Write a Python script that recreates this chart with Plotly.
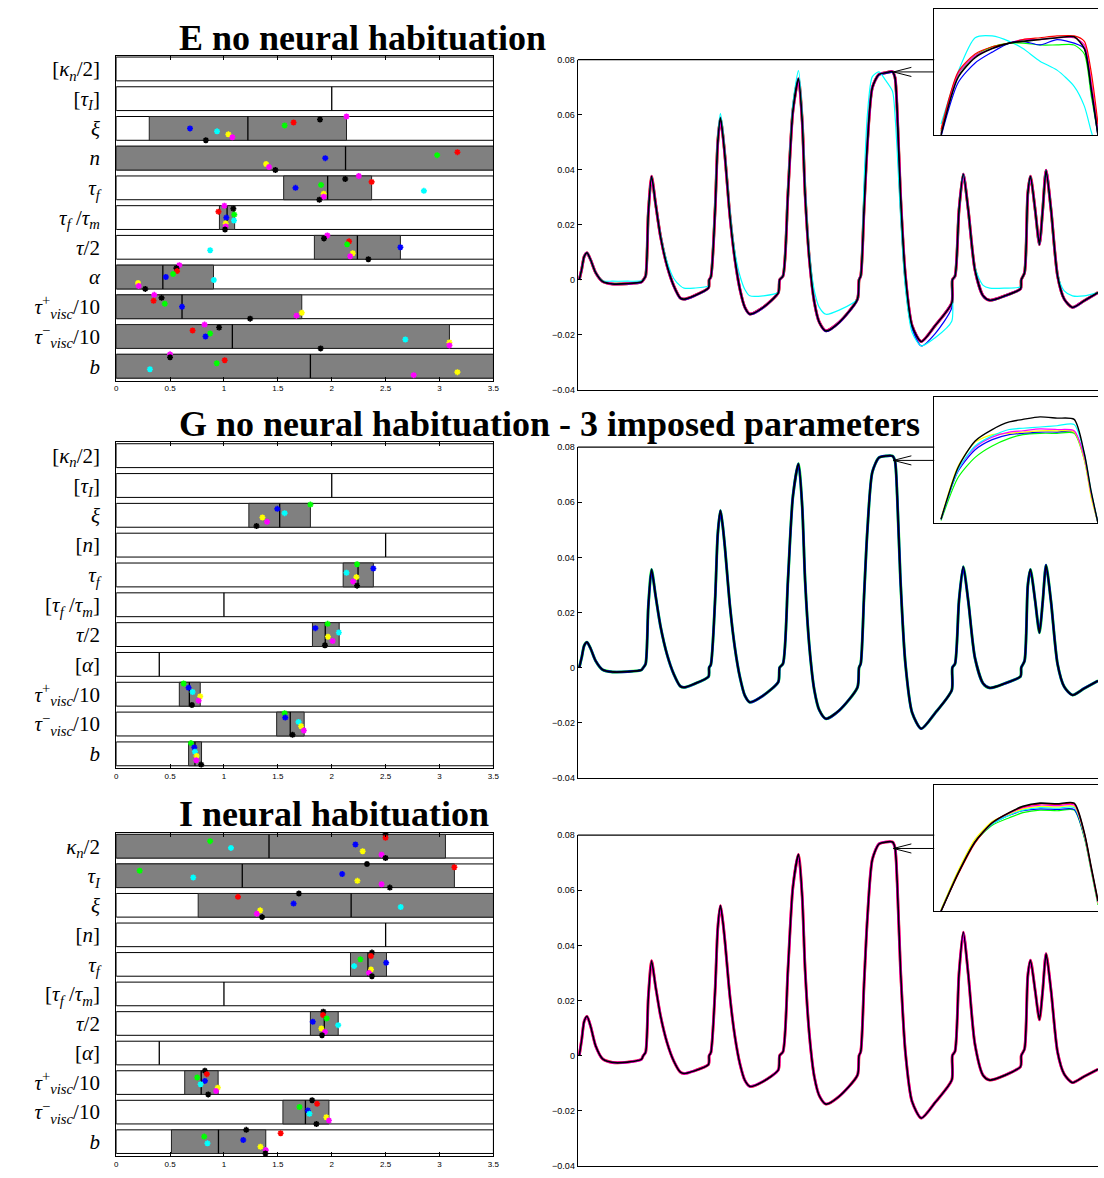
import plotly.graph_objects as go

W, H = 1104, 1178
def fx(p): return p / W
def fy(p): return 1 - p / H

# ---------------- parameter panels (left) ----------------
X_TICKS = [0, 0.5, 1, 1.5, 2, 2.5, 3, 3.5]
X_TICK_TEXT = ["0", "0.5", "1", "1.5", "2", "2.5", "3", "3.5"]

TP = "<i>τ</i><sup>+</sup><sub><i>visc</i></sub>/10"
TM = "<i>τ</i><sup>−</sup><sub><i>visc</i></sub>/10"
labels_E = ["[<i>κ<sub>n</sub></i>/2]", "[<i>τ<sub>I</sub></i>]", "<i>ξ</i>", "<i>n</i>",
            "<i>τ<sub>f</sub></i>", "<i>τ<sub>f</sub></i> /<i>τ<sub>m</sub></i>", "<i>τ</i>/2",
            "<i>α</i>", TP, TM, "<i>b</i>"]
labels_G = ["[<i>κ<sub>n</sub></i>/2]", "[<i>τ<sub>I</sub></i>]", "<i>ξ</i>", "[<i>n</i>]",
            "<i>τ<sub>f</sub></i>", "[<i>τ<sub>f</sub></i> /<i>τ<sub>m</sub></i>]", "<i>τ</i>/2",
            "[<i>α</i>]", TP, TM, "<i>b</i>"]
labels_I = ["<i>κ<sub>n</sub></i>/2", "<i>τ<sub>I</sub></i>", "<i>ξ</i>", "[<i>n</i>]",
            "<i>τ<sub>f</sub></i>", "[<i>τ<sub>f</sub></i> /<i>τ<sub>m</sub></i>]", "<i>τ</i>/2",
            "[<i>α</i>]", TP, TM, "<i>b</i>"]

N = None
# panel E ranges
E_low  = [N, N, 0.307, 0.0, 1.554, 0.958, 1.839, 0.0, 0.0, 0.0, 0.0]
E_high = [N, N, 2.137, 3.5, 2.370, 1.099, 2.637, 0.903, 1.722, 3.092, 3.5]
E_mid  = [N, 2.0, 1.222, 2.128, 1.962, 1.029, 2.238, 0.433, 0.611, 1.078, 1.802]
# panel E estimates (top to bottom within each row)
E_m1 = [N, N, 2.137, N, 2.251, 1.004, 1.959, 0.586, 0.353, 0.820, 0.500]
E_k1 = [N, N, 1.891, N, 2.125, 1.087, 1.928, 0.559, 0.421, 0.955, 0.500]
E_r  = [N, N, 1.646, 3.166, 2.370, 0.949, 2.161, 0.565, 0.347, 0.709, 1.007]
E_g  = [N, N, 1.563, 2.978, 1.901, 1.096, 2.143, 0.528, 0.451, 0.872, 0.933]
E_b  = [N, N, 0.685, 1.940, 1.664, 1.022, 2.637, 0.461, 0.611, 0.829, N]
E_c  = [N, N, 0.936, N, 2.855, 1.093, 0.872, 0.906, N, 2.683, 0.313]
E_y  = [N, N, 1.041, 1.391, 1.925, 1.016, 2.195, 0.203, 1.722, 3.092, 3.166]
E_m2 = [N, N, 1.078, 1.418, 1.925, 1.016, 2.171, 0.209, 1.673, 3.092, 2.760]
E_k2 = [N, N, 0.832, 1.477, 1.885, 1.010, 2.340, 0.270, 1.243, 1.897, N]

# panel G
G_low  = [N, N, 1.231, N, 2.106, N, 1.821, N, 0.586, 1.489, 0.672]
G_high = [N, N, 1.802, N, 2.386, N, 2.069, N, 0.780, 1.744, 0.792]
G_mid  = [N, 2.0, 1.517, 2.5, 2.244, 1.0, 1.940, 0.4, 0.679, 1.615, 0.731]
G_g = [N, N, 1.802, N, 2.235, N, 1.962, N, 0.626, 1.563, 0.694]
G_b = [N, N, 1.495, N, 2.386, N, 1.848, N, 0.672, 1.569, 0.725]
G_c = [N, N, 1.563, N, 2.137, N, 2.066, N, 0.709, 1.692, 0.731]
G_y = [N, N, 1.357, N, 2.229, N, 1.965, N, 0.780, 1.716, 0.746]
G_m = [N, N, 1.400, N, 2.198, N, 2.008, N, 0.765, 1.741, 0.743]
G_k = [N, N, 1.302, N, 2.235, N, 1.937, N, 0.703, 1.636, 0.789]

# panel I
I_low  = [0.0, 0.0, 0.761, N, 2.174, N, 1.802, N, 0.636, 1.547, 0.513]
I_high = [3.055, 3.138, 3.5, N, 2.508, N, 2.060, N, 0.946, 1.974, 1.388]
I_mid  = [1.418, 1.170, 2.180, 2.5, 2.336, 1.0, 1.931, 0.4, 0.789, 1.756, 0.949]
I_k1 = [2.499, 2.327, 1.695, N, 2.373, N, 1.922, N, 0.823, 1.818, 1.207]
I_r  = [2.499, 3.138, 1.130, N, 2.364, N, 1.919, N, 0.841, 1.864, 1.526]
I_g  = [0.872, 0.218, N, N, 2.266, N, 1.953, N, 0.752, 1.701, 0.817]
I_b  = [2.220, 2.097, 1.646, N, 2.505, N, 1.824, N, 0.823, 1.778, 1.179]
I_c  = [1.065, 0.715, 2.640, N, 2.208, N, 2.060, N, 0.783, 1.793, 0.847]
I_y  = [2.287, 2.238, 1.336, N, 2.364, N, 1.904, N, 0.943, 1.950, 1.339]
I_m  = [2.462, 2.462, 1.305, N, 2.346, N, 1.937, N, 0.927, 1.974, 1.388]
I_k2 = [2.499, 2.539, 1.354, N, 2.373, N, 1.910, N, 0.854, 1.858, 1.385]

# ---------------- signals (right) ----------------
Y_TICKS = [-0.04, -0.02, 0, 0.02, 0.04, 0.06, 0.08]
Y_TICK_TEXT = ["−0.04", "−0.02", "0", "0.02", "0.04", "0.06", "0.08"]
T_MAX = 524

t_main = [1.5, 4, 6.5, 9.3, 13, 18, 25, 35, 50, 64,
          66, 68.3, 71, 74.3, 78.3, 83.3, 90, 96.7, 103.3, 107,
          117, 131.7, 132.3, 134, 138.3, 141, 143.7, 146, 148.3, 153.3,
          158.3, 163.3, 168.3, 173.3, 186.7, 202, 203.3, 206.7, 211.7, 216.7,
          222.3, 226, 229, 233.3, 238.3, 243.3, 250, 263.3, 281.7, 283.3,
          285, 288.3, 291.7, 296.7, 303.3, 310, 317, 319.5, 321.7, 325,
          330, 336.7, 346, 360, 376.7, 377.3, 380, 384, 388.3, 393.3,
          400, 408.3, 415, 430, 446, 446.7, 450, 453.3, 456, 460.7,
          465, 468.3, 471.7, 476.7, 483.3, 490, 498.3, 510, 524]

E_black = [0.0, 0.004, 0.0085, 0.0098, 0.0072, 0.0026, -0.0006, -0.0015, -0.0014, -0.0008,
           0.0, 0.0014, 0.024, 0.0376, 0.0278, 0.0158, 0.005, -0.0022, -0.0066, -0.007,
           -0.0058, -0.0029, 0.0, 0.001, 0.0254, 0.050, 0.0588, 0.053, 0.0446, 0.023,
           0.0074, -0.0034, -0.010, -0.0124, -0.010, -0.0046, 0.0, 0.0014, 0.0314, 0.0614,
           0.073, 0.058, 0.031, 0.0074, -0.0082, -0.0154, -0.0185, -0.0154, -0.007, 0.0,
           0.0014, 0.0254, 0.0494, 0.0698, 0.0746, 0.0752, 0.0756, 0.0735, 0.0614, 0.0314,
           0.0014, -0.0166, -0.0224, -0.0166, -0.0084, 0.0, 0.0014, 0.0254, 0.0384, 0.0254,
           0.0038, -0.0058, -0.0074, -0.0058, -0.0032, 0.0, 0.0026, 0.0314, 0.0376, 0.0254,
           0.0128, 0.0254, 0.0398, 0.0254, 0.0014, -0.007, -0.010, -0.0076, -0.0046]
E_cyan = [0.0, 0.004, 0.0085, 0.0098, 0.0072, 0.0026, -0.0003, -0.0005, -0.0005, -0.0004,
          0.0, 0.0014, 0.024, 0.0376, 0.028, 0.0165, 0.0065, 0.0005, -0.0022, -0.003,
          -0.003, -0.0022, 0.0, 0.001, 0.027, 0.052, 0.0605, 0.055, 0.046, 0.025,
          0.010, 0.0015, -0.0035, -0.0058, -0.0058, -0.0045, 0.0, 0.0014, 0.033, 0.064,
          0.076, 0.061, 0.034, 0.010, -0.004, -0.010, -0.0125, -0.011, -0.007, 0.0,
          0.0014, 0.035, 0.060, 0.0738, 0.0755, 0.0725, 0.0685, 0.060, 0.047, 0.024,
          -0.003, -0.019, -0.024, -0.021, -0.015, 0.0, 0.0014, 0.0254, 0.0384, 0.0254,
          0.0045, -0.002, -0.003, -0.003, -0.0025, 0.0, 0.0026, 0.0314, 0.0376, 0.0254,
          0.0128, 0.0254, 0.0398, 0.0254, 0.002, -0.004, -0.0058, -0.0058, -0.0046]
E_blue = [0.0, 0.004, 0.0085, 0.0098, 0.0072, 0.0026, -0.0006, -0.0015, -0.0014, -0.0008,
          0.0, 0.0014, 0.024, 0.0376, 0.0278, 0.0158, 0.005, -0.0024, -0.0068, -0.0072,
          -0.006, -0.003, 0.0, 0.001, 0.0254, 0.050, 0.0588, 0.053, 0.0446, 0.023,
          0.0074, -0.0035, -0.0102, -0.0126, -0.0102, -0.0047, 0.0, 0.0014, 0.0314, 0.0614,
          0.073, 0.058, 0.031, 0.0074, -0.0083, -0.0156, -0.0188, -0.0157, -0.0073, 0.0,
          0.0014, 0.0254, 0.0494, 0.0698, 0.0744, 0.0750, 0.0753, 0.0733, 0.0614, 0.0314,
          0.0014, -0.0175, -0.0240, -0.0195, -0.0102, 0.0, 0.0014, 0.0254, 0.0384, 0.0254,
          0.0038, -0.006, -0.0075, -0.006, -0.0033, 0.0, 0.0026, 0.0314, 0.0376, 0.0254,
          0.0128, 0.0254, 0.0398, 0.0254, 0.0014, -0.0071, -0.0101, -0.0077, -0.0047]
G_black = [0.0, 0.0038, 0.008, 0.0092, 0.0068, 0.0024, -0.0008, -0.0016, -0.0015, -0.0009,
           0.0, 0.0013, 0.022, 0.0356, 0.0262, 0.0150, 0.0046, -0.0024, -0.0068, -0.0072,
           -0.006, -0.0033, 0.0, 0.001, 0.0246, 0.0485, 0.057, 0.0514, 0.0432, 0.0222,
           0.0070, -0.0035, -0.0102, -0.0126, -0.0102, -0.0052, 0.0, 0.0014, 0.0318, 0.0622,
           0.074, 0.0588, 0.0314, 0.0075, -0.0083, -0.0155, -0.0186, -0.0156, -0.0072, 0.0,
           0.0014, 0.0256, 0.0498, 0.071, 0.0762, 0.0768, 0.0768, 0.075, 0.0626, 0.032,
           0.0014, -0.0163, -0.0222, -0.0165, -0.0082, 0.0, 0.0014, 0.0244, 0.0366, 0.0242,
           0.0036, -0.0058, -0.0074, -0.0058, -0.0032, 0.0, 0.0024, 0.0298, 0.0356, 0.0242,
           0.0126, 0.0238, 0.0372, 0.0238, 0.0012, -0.0070, -0.010, -0.0076, -0.0048]
I_black = [0.0, 0.006, 0.0125, 0.0142, 0.0105, 0.0035, -0.0012, -0.0025, -0.0024, -0.0014,
           0.0, 0.0012, 0.021, 0.0344, 0.0252, 0.0145, 0.0046, -0.002, -0.006, -0.0065,
           -0.0056, -0.0032, 0.0, 0.001, 0.0235, 0.0463, 0.0544, 0.049, 0.0412, 0.0212,
           0.0068, -0.003, -0.009, -0.0112, -0.0094, -0.0052, 0.0, 0.0014, 0.0312, 0.0612,
           0.073, 0.058, 0.031, 0.0074, -0.0078, -0.0146, -0.0176, -0.0148, -0.0071, 0.0,
           0.0014, 0.0256, 0.0498, 0.0712, 0.0768, 0.0775, 0.0775, 0.0755, 0.063, 0.032,
           0.0012, -0.0167, -0.0227, -0.0170, -0.0089, 0.0, 0.0016, 0.0298, 0.0448, 0.0296,
           0.0042, -0.0072, -0.0089, -0.0072, -0.004, 0.0, 0.0024, 0.029, 0.0346, 0.0236,
           0.013, 0.0236, 0.037, 0.0236, 0.0012, -0.0068, -0.0098, -0.0076, -0.005]

# insets: zoom on the plateau of the fifth response
t_inset = [297, 299.5, 302, 304.5, 307, 309, 311.5, 314, 316.5, 318, 319, 320]
E_in_black   = [0.0700, 0.0732, 0.0743, 0.0748, 0.0751, 0.0752, 0.0753, 0.0754, 0.07545, 0.0748, 0.0726, 0.0700]
E_in_red     = [0.0703, 0.0735, 0.0745, 0.0749, 0.0751, 0.0753, 0.0754, 0.0755, 0.0755, 0.0752, 0.0735, 0.0706]
E_in_green   = [0.0702, 0.0734, 0.0744, 0.0749, 0.0751, 0.0751, 0.0750, 0.0750, 0.0750, 0.0745, 0.0722, 0.0700]
E_in_blue    = [0.0699, 0.0729, 0.0740, 0.0746, 0.0751, 0.0752, 0.0750, 0.0753, 0.0751, 0.0748, 0.0725, 0.0699]
E_in_magenta = [0.0701, 0.0734, 0.0744, 0.0748, 0.0751, 0.0753, 0.0753, 0.0754, 0.0754, 0.0750, 0.0730, 0.0703]
E_in_yellow  = [0.0702, 0.0734, 0.0744, 0.0749, 0.0751, 0.0752, 0.0753, 0.0754, 0.0754, 0.0750, 0.0731, 0.0704]
E_in_cyan    = [0.0706, 0.0735, 0.0754, 0.0755, 0.0752, 0.0748, 0.0741, 0.0736, 0.0727, 0.0716, 0.0702, 0.0690]

G_in_black   = [0.06445, 0.0706, 0.07375, 0.0751, 0.0760, 0.0763, 0.0766, 0.07645, 0.0763, 0.07225, 0.06775, 0.0640]
G_in_cyan    = [0.06445, 0.0703, 0.07315, 0.07435, 0.0751, 0.07525, 0.0754, 0.07555, 0.0757, 0.07225, 0.06775, 0.0640]
G_in_magenta = [0.06445, 0.0703, 0.0730, 0.0742, 0.0748, 0.07495, 0.07518, 0.0751, 0.07495, 0.0718, 0.06745, 0.0640]
G_in_yellow  = [0.0646, 0.07075, 0.0736, 0.0745, 0.07465, 0.0748, 0.07495, 0.07495, 0.0748, 0.0715, 0.0670, 0.0640]
G_in_blue    = [0.06445, 0.07015, 0.0727, 0.0739, 0.0745, 0.07465, 0.0748, 0.0748, 0.0748, 0.0718, 0.06745, 0.0640]
G_in_green   = [0.0643, 0.0694, 0.0718, 0.07315, 0.07405, 0.0745, 0.07465, 0.07465, 0.07465, 0.0715, 0.0673, 0.0640]

I_in_black   = [0.0630, 0.0678, 0.0718, 0.0742, 0.07548, 0.07628, 0.07668, 0.0766, 0.07668, 0.07292, 0.0686, 0.06428]
I_in_red     = [0.0630, 0.06764, 0.07164, 0.0742, 0.07548, 0.0762, 0.0766, 0.07652, 0.0766, 0.07292, 0.0686, 0.06428]
I_in_magenta = [0.0630, 0.0678, 0.0718, 0.0742, 0.0754, 0.07612, 0.07644, 0.07636, 0.07644, 0.07276, 0.06844, 0.06412]
I_in_yellow  = [0.06316, 0.06812, 0.07212, 0.07436, 0.07532, 0.07596, 0.07628, 0.0762, 0.07628, 0.0726, 0.06828, 0.06396]
I_in_cyan    = [0.0630, 0.0678, 0.0718, 0.07404, 0.07516, 0.0758, 0.07612, 0.07604, 0.07612, 0.0726, 0.06828, 0.06396]
I_in_blue    = [0.0630, 0.0678, 0.0718, 0.07404, 0.07516, 0.07572, 0.07596, 0.07588, 0.07588, 0.07244, 0.06828, 0.06396]
I_in_green   = [0.06316, 0.06796, 0.0718, 0.07388, 0.07484, 0.07548, 0.0758, 0.07572, 0.0758, 0.07228, 0.06812, 0.0638]

TITLES = ["E no neural habituation", "G no neural habituation - 3 imposed parameters", "I neural habituation"]

# ---------------- styling ----------------
C = dict(r="#ff0000", g="#00ff00", b="#0000ff", c="#00ffff", y="#ffff00", m="#ff00ff", k="#000000")
SERIF = "Liberation Serif"
SANS = "Liberation Sans"

fig = go.Figure()

def refs(k):
    return ("x" if k == 1 else f"x{k}"), ("y" if k == 1 else f"y{k}")

def add_params(k, labels, low, high, mid, series, span):
    xa, ya = refs(k)
    n = len(labels)
    rows = list(range(n))
    fig.add_trace(go.Bar(orientation="h", y=rows, x=[X_TICKS[-1]] * n, base=[X_TICKS[0]] * n,
                         width=0.8, marker=dict(color="white", line=dict(color="black", width=1)),
                         xaxis=xa, yaxis=ya, hoverinfo="skip", showlegend=False))
    rr = [r for r in rows if low[r] is not None]
    fig.add_trace(go.Bar(orientation="h", y=rr, x=[high[r] - low[r] for r in rr], base=[low[r] for r in rr],
                         width=0.8, marker=dict(color="#808080", line=dict(color="#222222", width=1)),
                         xaxis=xa, yaxis=ya, hoverinfo="skip", showlegend=False))
    lx, ly = [], []
    for r in rows:
        if mid[r] is not None:
            lx += [mid[r], mid[r], None]
            ly += [r - 0.4, r + 0.4, None]
    fig.add_trace(go.Scatter(x=lx, y=ly, mode="lines", line=dict(color="black", width=1.3),
                             xaxis=xa, yaxis=ya, hoverinfo="skip", showlegend=False))
    m = len(series)
    for i, (col, vals) in enumerate(series):
        off = -span + 2 * span * i / (m - 1)
        fig.add_trace(go.Scatter(x=vals, y=[r + off for r in rows], mode="markers",
                                 marker=dict(symbol="asterisk-open", size=5, color=C[col],
                                             line=dict(color=C[col], width=1.6)),
                                 xaxis=xa, yaxis=ya, hoverinfo="skip", showlegend=False))

add_params(1, labels_E, E_low, E_high, E_mid,
           [("m", E_m1), ("k", E_k1), ("r", E_r), ("g", E_g), ("b", E_b), ("c", E_c),
            ("y", E_y), ("m", E_m2), ("k", E_k2)], 0.4)
add_params(2, labels_G, G_low, G_high, G_mid,
           [("g", G_g), ("b", G_b), ("c", G_c), ("y", G_y), ("m", G_m), ("k", G_k)], 0.36)
add_params(3, labels_I, I_low, I_high, I_mid,
           [("k", I_k1), ("r", I_r), ("g", I_g), ("b", I_b), ("c", I_c), ("y", I_y),
            ("m", I_m), ("k", I_k2)], 0.4)

def line(k, t, y, col, w):
    xa, ya = refs(k)
    fig.add_trace(go.Scatter(x=t, y=y, mode="lines", line=dict(color=col, width=w, shape="spline", smoothing=0.7),
                             xaxis=xa, yaxis=ya, hoverinfo="skip", showlegend=False))

# main signals
line(4, t_main, E_black, C["g"], 2.6)
line(4, t_main, E_black, C["r"], 2.9)
line(4, t_main, E_black, C["m"], 2.5)
line(4, t_main, E_blue, C["b"], 1.3)
line(4, t_main, E_cyan, C["c"], 1.2)
line(4, t_main, E_black, C["k"], 1.7)

line(5, t_main, G_black, C["g"], 2.9)
line(5, t_main, G_black, C["b"], 2.5)
line(5, t_main, G_black, C["k"], 1.7)

line(6, t_main, I_black, C["r"], 2.9)
line(6, t_main, I_black, C["m"], 2.5)
line(6, t_main, I_black, C["k"], 1.7)

# insets
for col, arr in [("c", E_in_cyan), ("y", E_in_yellow), ("g", E_in_green), ("m", E_in_magenta),
                 ("r", E_in_red), ("b", E_in_blue), ("k", E_in_black)]:
    line(7, t_inset, arr, C[col], 1.6 if col == "k" else 1.2)
for col, arr in [("g", G_in_green), ("b", G_in_blue), ("y", G_in_yellow), ("m", G_in_magenta),
                 ("c", G_in_cyan), ("k", G_in_black)]:
    line(8, t_inset, arr, C[col], 1.4 if col == "k" else 1.2)
for col, arr in [("g", I_in_green), ("b", I_in_blue), ("c", I_in_cyan), ("y", I_in_yellow),
                 ("m", I_in_magenta), ("r", I_in_red), ("k", I_in_black)]:
    line(9, t_inset, arr, C[col], 1.6 if col == "k" else 1.2)

# ---------------- axes ----------------
layout = dict(width=W, height=H, margin=dict(l=0, r=0, t=0, b=0), paper_bgcolor="white",
              plot_bgcolor="rgba(0,0,0,0)", barmode="overlay", showlegend=False,
              font=dict(family=SANS, color="black"))

def set_axes(k, xd, yd, xcfg, ycfg):
    xn = "xaxis" if k == 1 else f"xaxis{k}"
    yn = "yaxis" if k == 1 else f"yaxis{k}"
    xa, ya = refs(k)
    layout[xn] = dict(domain=xd, anchor=ya, showgrid=False, zeroline=False, **xcfg)
    layout[yn] = dict(domain=yd, anchor=xa, showgrid=False, zeroline=False, **ycfg)

left_boxes = [(51, 379), (441, 770), (835, 1161)]
for i, (labels, (top, bot)) in enumerate(zip([labels_E, labels_G, labels_I], left_boxes)):
    n = len(labels)
    set_axes(i + 1, [fx(115), fx(495)], [fy(bot), fy(top)],
             dict(range=[X_TICKS[0], X_TICKS[-1]], tickvals=X_TICKS, ticktext=X_TICK_TEXT,
                  ticks="inside", ticklen=4, tickcolor="black", showline=True, linecolor="black",
                  linewidth=1, mirror="ticks", tickfont=dict(size=8, family=SANS)),
             dict(range=[n - 1 + 0.49, -0.45], tickvals=list(range(n)), ticktext=labels,
                  ticks="", showline=True, linecolor="black", linewidth=1, mirror=True,
                  tickfont=dict(size=21, family=SERIF), ticklabelstandoff=11))

right_boxes = [(55, 388.3), (446, 779.3), (837.3, 1170.7)]
for i, (top, bot) in enumerate(right_boxes):
    set_axes(i + 4, [fx(580), 1.0], [fy(bot), fy(top)],
             dict(range=[0, T_MAX], showticklabels=False, ticks="", showline=True,
                  linecolor="black", linewidth=1.2, mirror=False),
             dict(range=[Y_TICKS[0], Y_TICKS[-1]], tickvals=Y_TICKS, ticktext=Y_TICK_TEXT,
                  ticks="inside", ticklen=4, tickcolor="black", showline=True, linecolor="black",
                  linewidth=1.2, mirror=False, tickfont=dict(size=9, family=SANS)))

inset_boxes = [(4, 131, [0.0700, 0.0770]), (395, 522.5, [0.0640, 0.0790]), (786.5, 914, [0.0630, 0.0790])]
for i, (top, bot, yr) in enumerate(inset_boxes):
    set_axes(i + 7, [fx(939), 1.0], [fy(bot), fy(top)],
             dict(range=[t_inset[0] - 1, t_inset[-1]], showticklabels=False, ticks="",
                  showline=True, linecolor="black", linewidth=1.2, mirror=True),
             dict(range=yr, showticklabels=False, ticks="", showline=True,
                  linecolor="black", linewidth=1.2, mirror=False))

shapes = []
arrows_y = [67.5, 459.3, 850.7]
for (top, bot), ay in zip(right_boxes, arrows_y):
    shapes.append(dict(type="line", xref="paper", yref="paper", x0=fx(580), x1=fx(939), y0=fy(top), y1=fy(top),
                       line=dict(color="black", width=1.2)))
    shapes.append(dict(type="line", xref="paper", yref="paper", x0=fx(898), x1=fx(939), y0=fy(ay), y1=fy(ay),
                       line=dict(color="black", width=1)))
    shapes.append(dict(type="line", xref="paper", yref="paper", x0=fx(898), x1=fx(916), y0=fy(ay), y1=fy(ay - 4.6),
                       line=dict(color="black", width=1)))
    shapes.append(dict(type="line", xref="paper", yref="paper", x0=fx(898), x1=fx(916), y0=fy(ay), y1=fy(ay + 4.6),
                       line=dict(color="black", width=1)))
layout["shapes"] = shapes

title_y = [33, 423, 816]
layout["annotations"] = [dict(text=f"<b>{t}</b>", xref="paper", yref="paper", x=fx(176), y=fy(yy),
                              xanchor="left", yanchor="middle", showarrow=False,
                              font=dict(family=SERIF, size=36, color="black"))
                         for t, yy in zip(TITLES, title_y)]

fig.update_layout(**layout)
fig.write_html("out.html")
